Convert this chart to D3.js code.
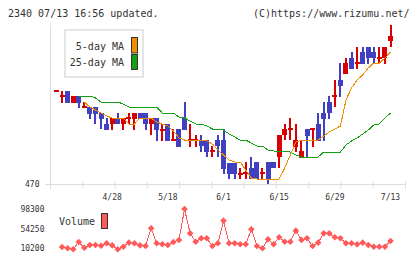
<!DOCTYPE html>
<html>
<head>
<meta charset="utf-8">
<script src="https://cdn.jsdelivr.net/npm/d3@7"></script>
<style>
body { margin: 0; background: #fff; }
text { font-family: "DejaVu Sans Mono", monospace; fill: #333; }
</style>
</head>
<body>
<svg id="chart" width="420" height="259"></svg>
<script>
const dates = ['4/14','4/15','4/16','4/17','4/20','4/21','4/22','4/23','4/24','4/27',
  '4/28','4/30','5/1','5/7','5/8','5/11','5/12','5/13','5/14','5/15',
  '5/18','5/19','5/20','5/21','5/22','5/25','5/26','5/27','5/28','5/29',
  '6/1','6/2','6/3','6/4','6/5','6/8','6/9','6/10','6/11','6/12',
  '6/15','6/16','6/17','6/18','6/19','6/22','6/23','6/24','6/25','6/26',
  '6/29','6/30','7/1','7/2','7/3','7/6','7/7','7/8','7/9','7/10','7/13'];

const open  = [563,558,563,551,558,547,547,547,541,530, 530,536,530,536,535,541,541,530,536,524,
  530,514,525,536,514,514,514,514,503,514, 514,491,491,480,481,486,492,481,492,492,
  497,519,525,507,496,525,525,530,541,552, 558,574,580,596,591,602,607,602,596,596, 613];
const high  = [563,563,563,558,558,552,547,547,541,536, 536,541,536,541,541,541,541,536,536,530,
  530,525,525,552,530,519,519,514,508,519, 525,491,491,486,492,497,492,486,492,492,
  519,530,536,530,514,525,525,541,552,558, 574,591,596,602,607,607,607,607,607,607, 629];
const low   = [562,551,551,551,546,547,535,530,525,524, 524,530,524,530,524,535,524,519,513,513,
  513,513,507,524,507,507,502,497,497,497, 480,475,475,475,475,475,475,475,470,486,
  486,514,514,502,496,496,507,513,513,535, 547,557,580,585,585,590,590,590,590,590, 607];
const close = [563,558,551,558,551,547,540,540,535,524, 536,530,536,536,541,535,530,536,524,524,
  513,514,507,524,514,514,508,502,503,508, 485,480,480,480,481,475,475,481,475,486,
  519,525,525,514,503,518,525,513,535,541, 558,568,591,585,591,590,596,596,596,607, 618];

const ma5 = [null,null,null,null,null,552,547,544,541,538, 536,536,536,530,530,536,536,536,532,530,
  528,523,516,514,514,514,514,513,510,504, 499,494,492,492,484,476,475,475,475,475,
  475,486,499,512,514,514,514,514,518,522, 525,528,554,566,574,579,586,591,591,596, 602];
const ma25 = [null,null,null,null,558,558,558,556,552,552, 552,552,550,547,547,547,547,547,547,541,
  541,541,537,536,533,530,530,528,525,525, 524,520,517,514,514,511,508,508,504,503,
  503,503,502,499,497,497,497,497,502,502, 502,502,509,513,516,520,524,529,530,536, 541];

const volume = [null,13100,10200,8000,24300,11500,17600,17600,16000,21400,
  16900,8000,13800,22800,21400,16900,15400,55000,21400,19200,
  17600,24300,28800,98300,43800,25000,32600,32600,15400,21400,
  72100,21400,21400,19200,19200,52800,15400,10200,30400,19200,
  34900,25000,25000,49700,28800,32600,15400,22800,43800,43800,
  34900,32600,21400,21400,19200,22800,17600,13800,13800,13800, 26600];

const priceTicks = [470];
const volTicks = [10200, 54250, 98300];
const dateLabels = ['4/28','5/18','6/1','6/15','6/29','7/13'];

const svg = d3.select("#chart");
const up = "#d80000", down = "#4040c0", c5 = "#f08c00", c25 = "#10a010", cv = "#ff5a5a";

const x = d3.scalePoint().domain(dates).range([56.5, 390.5]);
const y = d3.scaleLinear().domain([470, 634]).range([184, 20]);
const yv = d3.scaleLinear().domain([10200, 98300]).range([248.3, 209]);
const grid = d3.scaleLinear().domain([0, 11]).range([50, 405]);

// title
svg.append("text").attr("x", 8).attr("y", 16.5).style("font-size", "10px")
  .text("2340 07/13 16:56 updated.");
svg.append("text").attr("x", 409.5).attr("y", 16.5).attr("text-anchor", "end")
  .style("font-size", "10px").text("(C)https://www.rizumu.net/");

// axes
svg.append("line").attr("x1", 50).attr("x2", 50).attr("y1", 25).attr("y2", 188.5)
  .attr("stroke", "#ddd").attr("shape-rendering", "crispEdges");
const xa = svg.append("g").attr("transform", "translate(0,184)")
  .call(d3.axisBottom(grid).ticks(11).tickSize(4.5).tickSizeOuter(0).tickFormat(""));
xa.select(".domain").attr("d", "M45,0.5H405").attr("stroke", "#ddd");
xa.selectAll(".tick line").attr("stroke", "#ddd").attr("y1", -2.5);
xa.selectAll(".tick").filter(d => d === 0).remove();

svg.selectAll(".plabel").data(priceTicks).enter().append("text")
  .attr("x", 39.5).attr("y", d => y(d) + 3).attr("text-anchor", "end")
  .style("font-size", "8px").text(d => d);

svg.selectAll(".dlabel").data(dateLabels).enter().append("text")
  .attr("x", d => x(d)).attr("y", 200).attr("text-anchor", "middle")
  .style("font-size", "8px").text(d => d);

// candles
const idx = d3.range(dates.length);
const g = svg.append("g").attr("shape-rendering", "crispEdges");
g.selectAll(".wick").data(idx).enter().append("rect")
  .attr("x", i => x(dates[i]) - 1).attr("width", 2)
  .attr("y", i => y(high[i])).attr("height", i => Math.max(y(low[i]) - y(high[i]), 0))
  .attr("fill", i => close[i] >= open[i] ? up : down);
g.selectAll(".body").data(idx).enter().append("rect")
  .attr("x", i => x(dates[i]) - 2.5).attr("width", 5)
  .attr("y", i => Math.min(y(open[i]), y(close[i])) - (open[i] === close[i] ? 1 : 0))
  .attr("height", i => Math.max(Math.abs(y(open[i]) - y(close[i])), 2))
  .attr("fill", i => close[i] >= open[i] ? up : down);

// moving averages
const line = (arr, sc) => d3.line().defined(i => arr[i] != null)
  .x(i => x(dates[i])).y(i => sc(arr[i]))(idx);
svg.append("path").attr("d", line(ma25, y)).attr("fill", "none")
  .attr("stroke", c25).attr("shape-rendering", "crispEdges");
svg.append("path").attr("d", line(ma5, y)).attr("fill", "none")
  .attr("stroke", c5).attr("shape-rendering", "crispEdges");

// MA legend
svg.append("rect").attr("x", 65).attr("y", 30).attr("width", 78).attr("height", 47)
  .attr("fill", "#fff").attr("stroke", "#ddd").attr("stroke-width", 1.5);
svg.append("text").attr("x", 124).attr("y", 49.5).attr("text-anchor", "end")
  .style("font-size", "10px").text("5-day MA");
svg.append("text").attr("x", 124).attr("y", 66).attr("text-anchor", "end")
  .style("font-size", "10px").text("25-day MA");
svg.append("rect").attr("x", 131.5).attr("y", 37.5).attr("width", 6).attr("height", 15.5)
  .attr("fill", c5).attr("stroke", "#333");
svg.append("rect").attr("x", 131.5).attr("y", 54.5).attr("width", 6).attr("height", 15)
  .attr("fill", c25).attr("stroke", "#333");

// volume
svg.selectAll(".vlabel").data(volTicks).enter().append("text")
  .attr("x", 44.5).attr("y", d => yv(d) + 3).attr("text-anchor", "end")
  .style("font-size", "8px").text(d => d);
svg.append("path").attr("d", line(volume, yv)).attr("fill", "none")
  .attr("stroke", cv).attr("shape-rendering", "crispEdges");
svg.selectAll(".vpt").data(idx.filter(i => volume[i] != null)).enter().append("path")
  .attr("transform", i => `translate(${x(dates[i])},${yv(volume[i])}) rotate(45)`)
  .attr("d", d3.symbol(d3.symbolSquare, 22)).attr("fill", cv);
svg.append("text").attr("x", 59).attr("y", 225).style("font-size", "10px").text("Volume");
svg.append("rect").attr("x", 101.5).attr("y", 213.5).attr("width", 6).attr("height", 15)
  .attr("fill", cv).attr("stroke", "#333");
</script>
</body>
</html>
